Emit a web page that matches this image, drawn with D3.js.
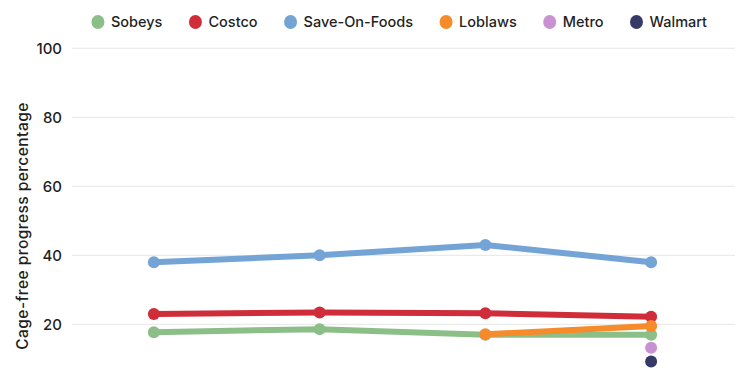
<!DOCTYPE html>
<html>
<head>
<meta charset="utf-8">
<script src="https://cdn.jsdelivr.net/npm/d3@7"></script>
<style>
  html, body { margin: 0; padding: 0; background: #fff; overflow: hidden; }
  svg { display: block; font-family: "Inter", "DejaVu Sans", sans-serif; }
</style>
</head>
<body>
<div id="chart"></div>
<script>
// Dữ liệu
const years = ["2019", "2020", "2021", "2022"];
const stores = ["Sobeys", "Costco", "Save-On-Foods", "Loblaws", "Metro", "Walmart"];
const colors = ["#8cbf88", "#cf2d39", "#74a4d5", "#f68b2c", "#c791d2", "#363a66"];
const sobeys = [17.7, 18.6, 17, 17];
const costco = [23, 23.4, 23.2, 22.2];
const saveOnFoods = [38, 40, 43, 38];
const loblaws = [null, null, 17.1, 19.5];
const metro = [null, null, null, 13.2];
const walmart = [null, null, null, 9.2];
const yTicks = [20, 40, 60, 80, 100];

const seriesValues = [sobeys, costco, saveOnFoods, loblaws, metro, walmart];

const W = 750, H = 375;
const margin = { top: 48, right: 16, left: 71 };
const plotRight = 734;

const svg = d3.select("#chart").append("svg")
    .attr("width", W)
    .attr("height", H);

// Thang đo (trục x nằm dưới mép khung nên bị cắt)
const x = d3.scalePoint().domain(years).range([margin.left, plotRight]).padding(0.5);
const y = d3.scaleLinear().domain([0, 100]).range([393.3, 48.3]);

// Lưới ngang
svg.append("g")
    .selectAll("line")
    .data(yTicks)
    .join("line")
    .attr("x1", 72)
    .attr("x2", 735)
    .attr("y1", d => y(d))
    .attr("y2", d => y(d))
    .attr("stroke", "#e6e6e6")
    .attr("stroke-width", 1);

// Nhãn trục y
const yAxis = svg.append("g")
    .attr("transform", `translate(62,0)`)
    .call(d3.axisLeft(y).tickValues(yTicks).tickSize(0).tickPadding(0));
yAxis.select(".domain").remove();
yAxis.selectAll("text")
    .attr("fill", "#1f1f1f")
    .style("font-size", "15px")
    .style("font-weight", "500")
    .style("font-family", "Inter, 'DejaVu Sans', sans-serif");

svg.append("text")
    .attr("transform", `translate(28,226) rotate(-90)`)
    .attr("text-anchor", "middle")
    .attr("fill", "#1f1f1f")
    .style("font-size", "15.5px")
    .style("font-weight", "500")
    .style("letter-spacing", "0.45px")
    .text("Cage-free progress percentage");

// Đường và điểm
const series = stores.map((name, i) => ({
    name,
    color: colors[i],
    values: seriesValues[i].map((v, j) => ({ year: years[j], v }))
}));

const line = d3.line()
    .defined(d => d.v !== null)
    .x(d => x(d.year))
    .y(d => y(d.v));

const g = svg.append("g");
series.forEach(s => {
    g.append("path")
        .datum(s.values)
        .attr("fill", "none")
        .attr("stroke", s.color)
        .attr("stroke-width", 6)
        .attr("stroke-linejoin", "round")
        .attr("d", line);
    g.selectAll(null)
        .data(s.values.filter(d => d.v !== null))
        .join("circle")
        .attr("cx", d => x(d.year))
        .attr("cy", d => y(d.v))
        .attr("r", 6)
        .attr("fill", s.color);
});

// Chú thích
const gap = 26;
const legend = svg.append("g");
let cursor = 0;
stores.forEach((name, i) => {
    const item = legend.append("g").attr("transform", `translate(${cursor},0)`);
    item.append("ellipse")
        .attr("cx", 7).attr("cy", 22)
        .attr("rx", 6.5).attr("ry", 7)
        .attr("fill", colors[i]);
    const t = item.append("text")
        .attr("x", 20)
        .attr("y", 27)
        .attr("fill", "#1f1f1f")
        .style("font-size", "14.5px")
        .style("font-weight", "500")
        .text(name);
    cursor += 20 + t.node().getComputedTextLength() + gap;
});
const legendWidth = cursor - gap;
legend.attr("transform", `translate(${399 - legendWidth / 2},0)`);
</script>
</body>
</html>
